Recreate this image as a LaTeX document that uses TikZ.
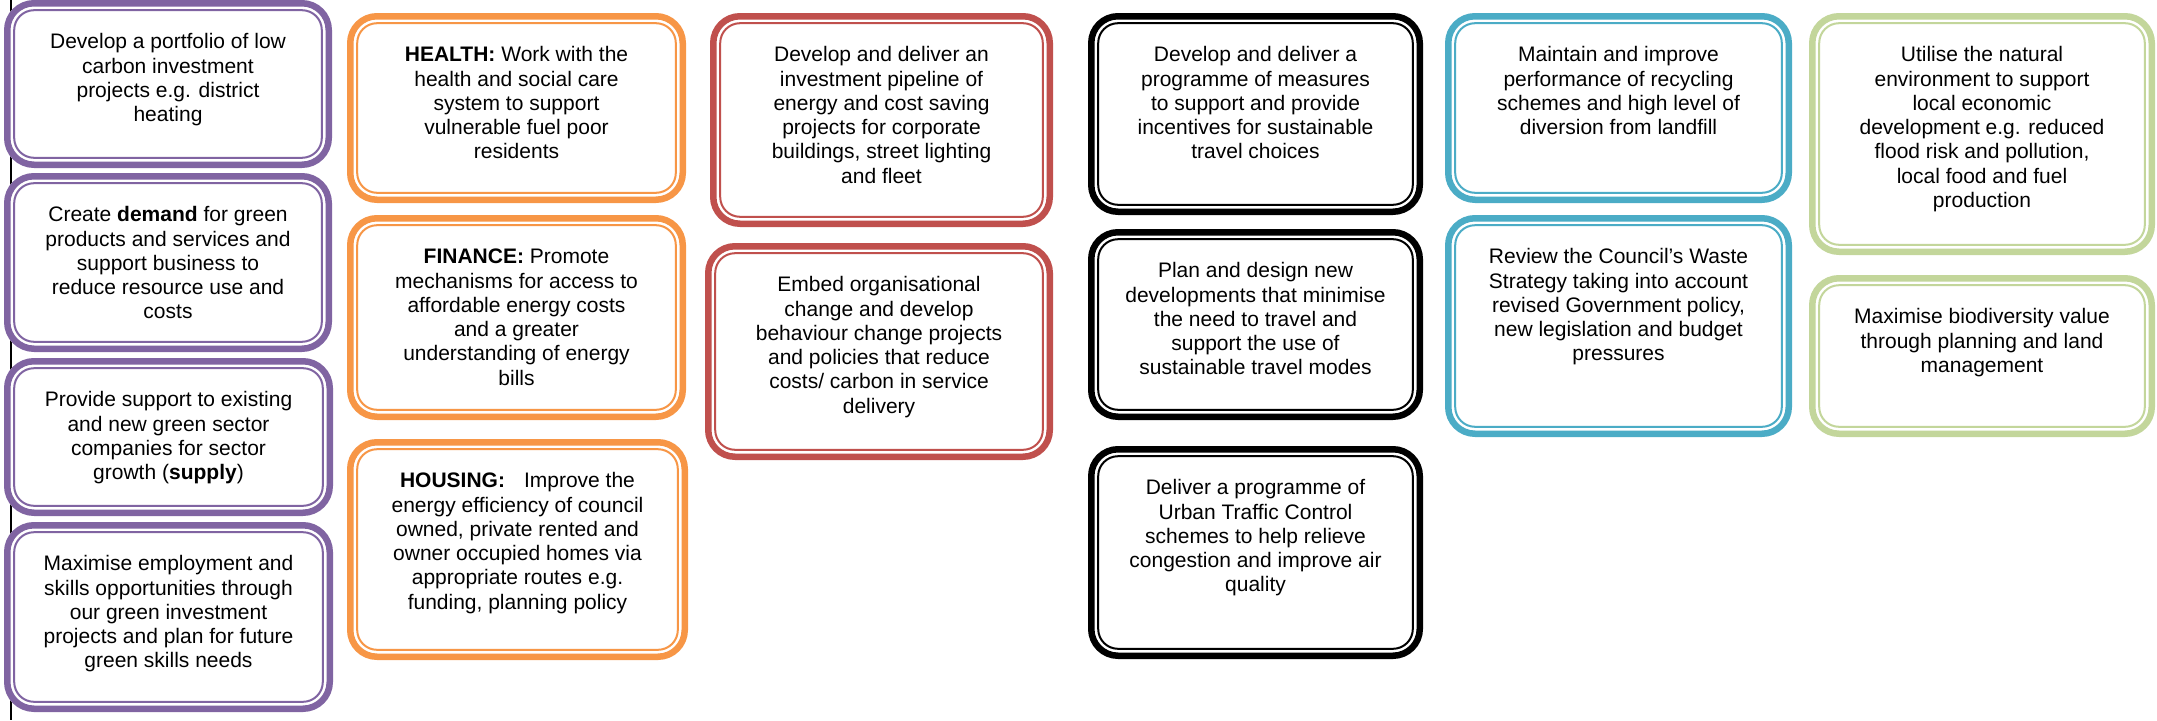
\documentclass[tikz,border=0pt]{standalone}
\usepackage{fontspec}
\setmainfont{Liberation Sans}
\definecolor{cpurple}{HTML}{8064A2}
\definecolor{corange}{HTML}{F79646}
\definecolor{cred}{HTML}{C0504D}
\definecolor{cblue}{HTML}{4BACC6}
\definecolor{cgreen}{HTML}{C3D69B}
\tikzset{
  band/.style={line width=6.5pt, rounded corners=26.75pt},
  thinline/.style={line width=2pt, rounded corners=19.8pt},
  txt/.style={anchor=north, inner sep=0pt, align=center, font=\fontsize{21}{24.3}\selectfont},
}
\newcommand\cbox[7]{%
  \fill[white, rounded corners=30pt] (#3,#4) rectangle (#5,#6);
  \draw[band, #2] ({#3+3.25},{#4+3.25}) rectangle ({#5-3.25},{#6-3.25});
  \draw[thinline, #2] ({#3+10.2},{#4+10.2}) rectangle ({#5-10.2},{#6-10.2});
  \node[txt] (#1) at ({(#3+#5)/2},{#4+31.5}) {\rule{0pt}{17pt}#7};
}
\begin{document}
\begin{tikzpicture}[x=1pt,y=-1pt]
\useasboundingbox (0,0) rectangle (2157,720);
\coordinate (lt) at (11,0);
\coordinate (lb) at (11,720);
\draw[line width=1.2pt] (lt) -- (lb);
% purple column
\cbox{p1}{cpurple}{4}{0}{332}{168}{Develop a portfolio of low\\carbon investment\\projects e.g. district\\heating}
\cbox{p2}{cpurple}{4}{173}{332}{352}{Create \textbf{demand} for green\\products and services and\\support business to\\reduce resource use and\\costs}
\cbox{p3}{cpurple}{4}{358}{333}{516}{Provide support to existing\\and new green sector\\companies for sector\\growth (\textbf{supply})}
\cbox{p4}{cpurple}{4}{522}{333}{712}{Maximise employment and\\skills opportunities through\\our green investment\\projects and plan for future\\green skills needs}
% orange column
\cbox{o1}{corange}{347}{13}{686}{203}{\textbf{HEALTH:} Work with the\\health and social care\\system to support\\vulnerable fuel poor\\residents}
\cbox{o2}{corange}{347}{215}{686}{420}{\textbf{FINANCE:} Promote\\mechanisms for access to\\affordable energy costs\\and a greater\\understanding of energy\\bills}
\cbox{o3}{corange}{347}{439}{688}{660}{\textbf{HOUSING:}\hspace{19pt}Improve the\\energy efficiency of council\\owned, private rented and\\owner occupied homes via\\appropriate routes e.g.\\funding, planning policy}
% red column
\cbox{r1}{cred}{710}{13}{1053}{227}{Develop and deliver an\\investment pipeline of\\energy and cost saving\\projects for corporate\\buildings, street lighting\\and fleet}
\cbox{r2}{cred}{705}{243}{1053}{460}{Embed organisational\\change and develop\\behaviour change projects\\and policies that reduce\\costs/ carbon in service\\delivery}
% black column
\cbox{k1}{black}{1088}{13}{1423}{215}{Develop and deliver a\\programme of measures\\to support and provide\\incentives for sustainable\\travel choices}
\cbox{k2}{black}{1088}{229}{1423}{420}{Plan and design new\\developments that minimise\\the need to travel and\\support the use of\\sustainable travel modes}
\cbox{k3}{black}{1088}{446}{1423}{659}{Deliver a programme of\\Urban Traffic Control\\schemes to help relieve\\congestion and improve air\\quality}
% blue column
\cbox{b1}{cblue}{1445}{13}{1792}{203}{Maintain and improve\\performance of recycling\\schemes and high level of\\diversion from landfill}
\cbox{b2}{cblue}{1445}{215}{1792}{437}{Review the Council’s Waste\\Strategy taking into account\\revised Government policy,\\new legislation and budget\\pressures}
% green column
\cbox{g1}{cgreen}{1809}{13}{2155}{255}{Utilise the natural\\environment to support\\local economic\\development e.g. reduced\\flood risk and pollution,\\local food and fuel\\production}
\cbox{g2}{cgreen}{1809}{275}{2155}{437}{Maximise biodiversity value\\through planning and land\\management}
\end{tikzpicture}
\end{document}
